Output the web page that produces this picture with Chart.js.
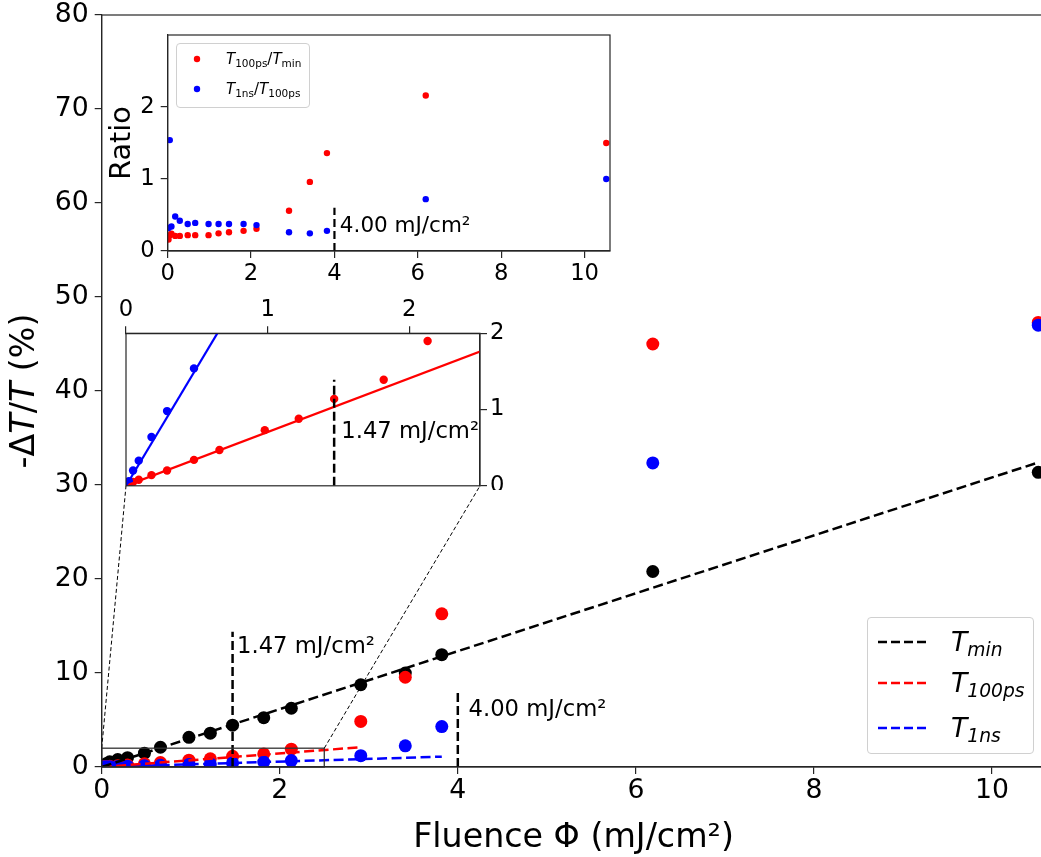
<!DOCTYPE html>
<html lang="en">
<head>
  <meta charset="UTF-8" />
  <title>Transmission change vs fluence</title>
  <script src="https://cdn.jsdelivr.net/npm/chart.js"></script>
  <style>
    body { margin: 0; background: #fff; font-family: 'DejaVu Sans', sans-serif; }
    #fig { position: relative; width: 1041px; height: 857px; overflow: hidden; }
    #fig canvas { position: absolute; }
    #mainChart { left: 0; top: 0; z-index: 0; }
    #zoomChart { left: 110px; top: 285px; z-index: 1; }
    #ratioChart { left: 100px; top: 25px; z-index: 2; }

    .legend {
      position: absolute;
      background: rgba(255, 255, 255, 0.8);
      border: 1px solid #d0d0d0;
      border-radius: 4px;
      box-sizing: border-box;
      z-index: 3;
    }
    .legend .sample, .legend .lab { position: absolute; transform: translateY(-50%); }
    .legend .lab { line-height: 1; white-space: nowrap; color: #000; }
    .legend sub { font-size: 0.7em; vertical-align: -0.3em; line-height: 0; }

    #mainLegend { left: 867px; top: 617px; width: 167px; height: 137px; }
    #mainLegend .lab { left: 83px; font-size: 26.7px; }
    #mainLegend .sample { left: 10px; }
    #mainLegend sub { font-style: italic; }

    #ratioLegend { left: 176px; top: 43px; width: 134px; height: 65px; }
    #ratioLegend .lab { left: 49px; font-size: 15px; }
    #ratioLegend .sample { left: 16px; }
  </style>
</head>
<body>
  <div id="fig">
    <canvas id="mainChart" width="1070" height="857"></canvas>
    <canvas id="zoomChart" width="420" height="205"></canvas>
    <canvas id="ratioChart" width="520" height="275"></canvas>

    <div class="legend" id="mainLegend">
      <svg class="sample" style="top:24px" width="48" height="6"><line x1="0" y1="3" x2="48" y2="3" stroke="#000" stroke-width="2.5" stroke-dasharray="9 4"/></svg>
      <span class="lab" style="top:24px"><i>T</i><sub>min</sub></span>
      <svg class="sample" style="top:65px" width="48" height="6"><line x1="0" y1="3" x2="48" y2="3" stroke="#ff0000" stroke-width="2.5" stroke-dasharray="9 4"/></svg>
      <span class="lab" style="top:65px"><i>T</i><sub>100ps</sub></span>
      <svg class="sample" style="top:110px" width="48" height="6"><line x1="0" y1="3" x2="48" y2="3" stroke="#0000ff" stroke-width="2.5" stroke-dasharray="9 4"/></svg>
      <span class="lab" style="top:110px"><i>T</i><sub>1ns</sub></span>
    </div>

    <div class="legend" id="ratioLegend">
      <svg class="sample" style="top:15px" width="8" height="8"><circle cx="4" cy="4" r="3.2" fill="#ff0000"/></svg>
      <span class="lab" style="top:15px"><i>T</i><sub>100ps</sub>/<i>T</i><sub>min</sub></span>
      <svg class="sample" style="top:44.5px" width="8" height="8"><circle cx="4" cy="4" r="3.2" fill="#0000ff"/></svg>
      <span class="lab" style="top:44.5px"><i>T</i><sub>1ns</sub>/<i>T</i><sub>100ps</sub></span>
    </div>
  </div>

  <script>
    const FONT = "'DejaVu Sans', sans-serif";
    const SPINE = '#262626';
    Chart.defaults.font.family = FONT;
    Chart.defaults.color = '#000';

    // fluence of each measurement (mJ/cm²), shared by every series
    const fluence = [0.02, 0.05, 0.09, 0.18, 0.29, 0.48, 0.66, 0.98, 1.22, 1.47, 1.82, 2.13, 2.91, 3.41, 3.82, 6.19, 10.52];
    // -ΔT/T (%) at the minimum, after 100 ps and after 1 ns
    const tMin   = [0.15, 0.35, 0.56, 0.80, 0.99, 1.47, 2.10, 3.16, 3.60, 4.45, 5.25, 6.25, 8.75, 10.0, 11.95, 20.8, 31.35];
    const t100ps = [0.03, 0.05, 0.08, 0.14, 0.20, 0.34, 0.47, 0.73, 0.88, 1.14, 1.39, 1.90, 4.85, 9.55, 16.3, 45.0, 47.3];
    const t1ns   = [0.01, 0.02, 0.03, 0.06, 0.09, 0.13, 0.18, 0.27, 0.33, 0.43, 0.52, 0.68, 1.20, 2.25, 4.30, 32.35, 47.0];

    // linear fits, end points
    const fitMinX = [0, 10.52], fitMinY = [0, 32.4];
    const fit100X = [0, 2.91],  fit100Y = [0, 2.1];
    const fit1nsX = [0, 3.82],  fit1nsY = [0, 1.1];

    // threshold fluences and the height of their marker lines
    const thresholds = [1.47, 4.00];
    const thresholdTops = [14.4, 8.2];

    // ratio inset
    const ratio100 = [0.16, 0.22, 0.24, 0.21, 0.21, 0.22, 0.22, 0.22, 0.245, 0.26, 0.28, 0.31, 0.56, 0.96, 1.36, 2.16, 1.50];
    const ratio1ns = [0.32, 1.54, 0.34, 0.48, 0.42, 0.375, 0.39, 0.375, 0.375, 0.375, 0.375, 0.36, 0.26, 0.245, 0.28, 0.72, 1.00];
    const ratioMarkTop = 0.6;

    // low-fluence zoom
    const zoomX = [0, 2.5], zoomY = [0, 2];
    const zoomBlue = [0.06, 0.20, 0.33, 0.64, 0.98, 1.54];
    const zoomFit100X = [0, 2.5], zoomFit100Y = [0, 1.76];
    const zoomFitBlueX = [0, 0.7], zoomFitBlueY = [0, 2.17];
    const zoomMarkTop = 1.39;

    const pts = (xs, ys) => ys.map((y, i) => ({ x: xs[i], y }));
    const label = v => v.toFixed(2) + ' mJ/cm²';

    function dots(data, color, r, order) {
      return { data, showLine: false, pointRadius: r, pointBackgroundColor: color,
               pointBorderWidth: 0, pointHoverRadius: r, order };
    }
    function line(data, color, width, dash, order) {
      return { data, showLine: true, borderColor: color, borderWidth: width, borderDash: dash,
               pointRadius: 0, pointHoverRadius: 0, fill: false, tension: 0, order };
    }

    function axis(o) {
      const a = {
        type: 'linear', position: o.position, min: o.min, max: o.max,
        ticks: { stepSize: o.step, includeBounds: false, maxRotation: 0,
                 font: { size: o.tickSize, lineHeight: 1 }, padding: o.pad, color: '#000' },
        grid: { drawOnChartArea: false, drawTicks: true, tickLength: 7, color: SPINE, lineWidth: 1.2 },
        border: { color: SPINE, width: 1.2 },
        afterFit(s) {
          if (s.isHorizontal()) s.height = o.size; else s.width = o.size;
          s.paddingTop = s.paddingBottom = s.paddingLeft = s.paddingRight = 0;
        }
      };
      if (o.title) a.title = { display: true, text: o.title, color: '#000',
                               font: { size: o.titleSize, lineHeight: 1 }, padding: o.titlePad };
      if (o.keep) a.afterBuildTicks = s => { s.ticks = s.ticks.filter(t => t.value <= o.keep); };
      return a;
    }

    // white axes background and a full box of spines
    function frame(fill) {
      return {
        id: 'frame',
        beforeDraw(chart) {
          if (!fill) return;
          const a = chart.chartArea, ctx = chart.ctx;
          ctx.save();
          ctx.fillStyle = '#fff';
          ctx.fillRect(a.left, a.top, a.width, a.height);
          ctx.restore();
        },
        afterDraw(chart) {
          const a = chart.chartArea, ctx = chart.ctx;
          ctx.save();
          ctx.strokeStyle = SPINE;
          ctx.lineWidth = 1.2;
          ctx.strokeRect(a.left, a.top, a.width, a.height);
          ctx.restore();
        }
      };
    }

    // text placed at data coordinates, left aligned
    function notes(items, size) {
      return {
        id: 'notes',
        afterDatasetsDraw(chart) {
          const { ctx, scales: { x, y } } = chart;
          ctx.save();
          ctx.font = size + 'px ' + FONT;
          ctx.fillStyle = '#000';
          ctx.textAlign = 'left';
          ctx.textBaseline = 'middle';
          items.forEach(n => ctx.fillText(n.text, x.getPixelForValue(n.x), y.getPixelForValue(n.y)));
          ctx.restore();
        }
      };
    }

    const baseOptions = {
      responsive: false,
      animation: false,
      devicePixelRatio: 1,
      events: [],
      plugins: { legend: { display: false }, tooltip: { enabled: false } }
    };

    // ---- ratio inset ----
    const ratioChart = new Chart(document.getElementById('ratioChart'), {
      type: 'scatter',
      data: {
        datasets: [
          line(pts([4.0, 4.0], [0, ratioMarkTop]), '#000', 2.2, [8, 4], 0),
          dots(pts(fluence, ratio1ns), '#0000ff', 3.2, 1),
          dots(pts(fluence, ratio100), '#ff0000', 3.2, 2)
        ]
      },
      options: Object.assign({}, baseOptions, {
        layout: { padding: { left: 0, top: 10, right: 10, bottom: 0 } },
        scales: {
          x: axis({ position: 'bottom', min: 0, max: 10.61, step: 2, tickSize: 22.7, pad: 5, size: 49 }),
          y: axis({ position: 'left', min: 0, max: 3, step: 1, keep: 2, tickSize: 22.7, pad: 6, size: 67.7,
                    title: 'Ratio', titleSize: 28.6, titlePad: { top: 8, bottom: 0 } })
        }
      }),
      plugins: [frame(true), notes([{ x: 4.13, y: 0.34, text: label(4.00) }], 21.5)]
    });

    // ---- low-fluence zoom ----
    const zoomChart = new Chart(document.getElementById('zoomChart'), {
      type: 'scatter',
      data: {
        datasets: [
          line(pts([thresholds[0], thresholds[0]], [0, zoomMarkTop]), '#000', 2.5, [9, 4], 0),
          line(pts(zoomFitBlueX, zoomFitBlueY), '#0000ff', 2.2, [], 1),
          line(pts(zoomFit100X, zoomFit100Y), '#ff0000', 2.2, [], 2),
          dots(pts(fluence, zoomBlue), '#0000ff', 4.2, 3),
          dots(pts(fluence, t100ps), '#ff0000', 4.2, 4)
        ]
      },
      options: Object.assign({}, baseOptions, {
        layout: { padding: { left: 16, top: 0, right: 0, bottom: 3.3 } },
        scales: {
          x: axis({ position: 'top', min: zoomX[0], max: zoomX[1], step: 1, tickSize: 22.7, pad: 5, size: 48.3 }),
          y: axis({ position: 'right', min: zoomY[0], max: zoomY[1], step: 1, tickSize: 22.7, pad: 3, size: 50 })
        }
      }),
      plugins: [frame(true), notes([{ x: 1.52, y: 0.70, text: label(thresholds[0]) }], 22.7)]
    });

    // y title with italic T
    const yTitle = {
      id: 'yTitle',
      afterDraw(chart) {
        const ctx = chart.ctx, a = chart.chartArea;
        const parts = [['-Δ', false], ['T', true], ['/', false], ['T', true], [' (%)', false]];
        const size = 33.3;
        ctx.save();
        ctx.translate(25, (a.top + a.bottom) / 2);
        ctx.rotate(-Math.PI / 2);
        ctx.fillStyle = '#000';
        ctx.textBaseline = 'middle';
        const widths = parts.map(([t, it]) => {
          ctx.font = (it ? 'italic ' : '') + size + 'px ' + FONT;
          return ctx.measureText(t).width;
        });
        let x = -widths.reduce((s, w) => s + w, 0) / 2;
        parts.forEach(([t, it], i) => {
          ctx.font = (it ? 'italic ' : '') + size + 'px ' + FONT;
          ctx.fillText(t, x, 0);
          x += widths[i];
        });
        ctx.restore();
      }
    };

    // box around the zoomed region and the guide lines to the inset
    const zoomGuides = {
      id: 'zoomGuides',
      afterDatasetsDraw(chart) {
        const { ctx, scales: { x, y } } = chart;
        const canvas = document.getElementById('zoomChart');
        const za = zoomChart.chartArea;
        const ox = canvas.offsetLeft - chart.canvas.offsetLeft;
        const oy = canvas.offsetTop - chart.canvas.offsetTop;
        const x0 = x.getPixelForValue(zoomX[0]), x1 = x.getPixelForValue(zoomX[1]);
        const y0 = y.getPixelForValue(zoomY[0]), y1 = y.getPixelForValue(zoomY[1]);
        ctx.save();
        ctx.strokeStyle = '#333';
        ctx.lineWidth = 1.3;
        ctx.strokeRect(x0, y1, x1 - x0, y0 - y1);
        ctx.strokeStyle = '#000';
        ctx.lineWidth = 1;
        ctx.setLineDash([4, 2.5]);
        ctx.beginPath();
        ctx.moveTo(x0, y1); ctx.lineTo(ox + za.left, oy + za.bottom);
        ctx.moveTo(x1, y1); ctx.lineTo(ox + za.right, oy + za.bottom);
        ctx.stroke();
        ctx.restore();
      }
    };

    // ---- main chart ----
    const mainChart = new Chart(document.getElementById('mainChart'), {
      type: 'scatter',
      data: {
        datasets: [
          line(pts([thresholds[0], thresholds[0]], [0, thresholdTops[0]]), '#000', 2.5, [9, 4], 0),
          line(pts([thresholds[1], thresholds[1]], [0, thresholdTops[1]]), '#000', 2.5, [9, 4], 0),
          line(pts(fitMinX, fitMinY), '#000', 2.5, [10, 4.5], 1),
          line(pts(fit100X, fit100Y), '#ff0000', 2.5, [10, 4.5], 1),
          line(pts(fit1nsX, fit1nsY), '#0000ff', 2.5, [10, 4.5], 1),
          dots(pts(fluence, t1ns), '#0000ff', 6.5, 3),
          dots(pts(fluence, t100ps), '#ff0000', 6.5, 4),
          dots(pts(fluence, tMin), '#000', 6.5, 5)
        ]
      },
      options: Object.assign({}, baseOptions, {
        layout: { padding: { left: 0, top: 15, right: 24.6, bottom: 0 } },
        scales: {
          x: axis({ position: 'bottom', min: 0, max: 10.6, step: 2, tickSize: 26.7, pad: 4, size: 90,
                    title: 'Fluence Φ (mJ/cm²)', titleSize: 33.3, titlePad: { top: 0, bottom: 2.4 } }),
          y: axis({ position: 'left', min: 0, max: 80, step: 10, tickSize: 26.7, pad: 6, size: 101.7 })
        }
      }),
      plugins: [
        frame(false), yTitle, zoomGuides,
        notes([{ x: 1.52, y: 12.8, text: label(thresholds[0]) },
               { x: 4.12, y: 6.0, text: label(thresholds[1]) }], 22.7)
      ]
    });
  </script>
</body>
</html>
